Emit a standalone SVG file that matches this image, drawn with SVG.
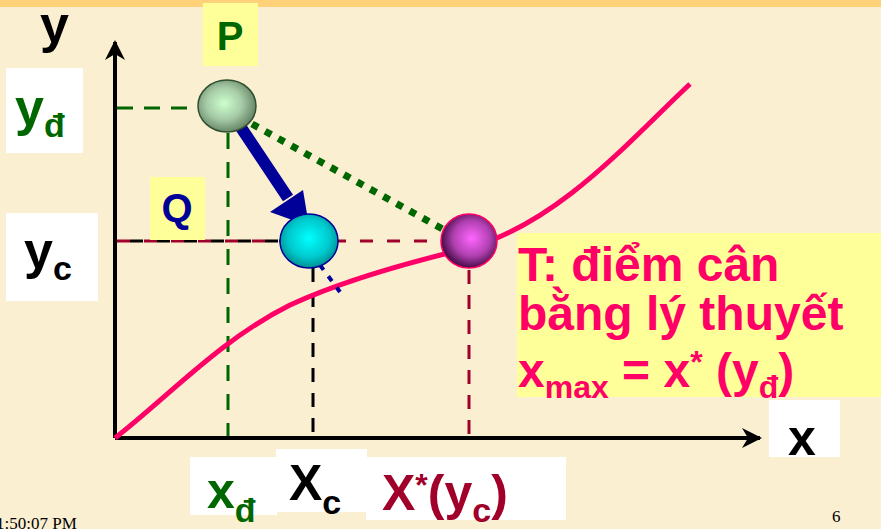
<svg xmlns="http://www.w3.org/2000/svg" width="881" height="529" viewBox="0 0 881 529">
<defs>
<style>
.lbl{font-family:"Liberation Sans","DejaVu Sans",sans-serif;font-weight:bold}
.box{fill:#ffffff}
.ybox{fill:#ffff99}
.serif{font-family:"Liberation Serif",serif;font-size:17px;fill:#000}
</style>
<radialGradient id="gP" cx="0.45" cy="0.45" r="0.6"><stop offset="0" stop-color="#ccffcc"/><stop offset="0.5" stop-color="#a8cca8"/><stop offset="1" stop-color="#5c7a5c"/></radialGradient>
<radialGradient id="gQ" cx="0.5" cy="0.45" r="0.6"><stop offset="0" stop-color="#00ffff"/><stop offset="0.6" stop-color="#00c8cc"/><stop offset="1" stop-color="#008080"/></radialGradient>
<radialGradient id="gT" cx="0.55" cy="0.45" r="0.6"><stop offset="0" stop-color="#ff66ff"/><stop offset="0.55" stop-color="#b040b0"/><stop offset="1" stop-color="#300030"/></radialGradient>
<marker id="ah" viewBox="0 0 10 10" refX="9" refY="5" markerWidth="5" markerHeight="5" orient="auto" markerUnits="strokeWidth"><path d="M0,0 L10,5 L0,10 L3,5 Z" fill="#000"/></marker>
</defs>
<rect width="881" height="529" fill="#fbefd2"/>
<rect width="881" height="7" fill="#ffd27a"/>

<g id="connectors">
<!-- axes -->
<line x1="115" y1="438" x2="115" y2="42" stroke="#000" stroke-width="4" marker-end="url(#ah)"/>
<line x1="115" y1="438" x2="760" y2="438" stroke="#000" stroke-width="4" marker-end="url(#ah)"/>
<!-- green dashed guides -->
<line x1="117" y1="108" x2="198" y2="108" stroke="#006600" stroke-width="3" stroke-dasharray="16,11"/>
<line x1="228" y1="133" x2="228" y2="436" stroke="#006600" stroke-width="3" stroke-dasharray="16,13"/>
<!-- y_c horizontal -->
<line x1="117" y1="241" x2="440" y2="241" stroke="#a0002a" stroke-width="3" stroke-dasharray="13,14"/>
<line x1="130" y1="241" x2="282" y2="241" stroke="#000" stroke-width="3" stroke-dasharray="13,14"/>
<!-- verticals -->
<line x1="313" y1="268" x2="313" y2="436" stroke="#000" stroke-width="3" stroke-dasharray="14,11"/>
<line x1="469" y1="270" x2="469" y2="436" stroke="#a0002a" stroke-width="3" stroke-dasharray="14,11"/>
<!-- curve -->
<path d="M115,438 C170,395 220,340 290,305 C340,282 410,262 469,248 C560,222 630,140 690,84" fill="none" stroke="#ff0066" stroke-width="5"/>
<!-- blue dotted -->
<line x1="320" y1="265" x2="340" y2="292" stroke="#000099" stroke-width="4" stroke-dasharray="6,8"/>
<!-- green dotted arrow P->T -->
<line x1="252" y1="124" x2="448" y2="232" stroke="#006600" stroke-width="7" stroke-dasharray="7,8"/>
<polygon points="445,247 455,225 472,248" fill="#006600"/>
<!-- blue arrow P->Q -->
<line x1="240" y1="126" x2="288" y2="198" stroke="#000099" stroke-width="12"/>
<polygon points="270,212 303,190 309,226" fill="#000099"/>
</g>

<g id="node-P">
<rect class="ybox" x="203" y="3" width="55" height="63"/>
<text class="lbl" x="230" y="50" font-size="40" fill="#006600" text-anchor="middle">P</text>
<ellipse cx="227" cy="106" rx="29" ry="26" fill="url(#gP)" stroke="#2f4f2f" stroke-width="1.5"/>
</g>

<g id="node-Q">
<rect class="ybox" x="150" y="177" width="55" height="63"/>
<text class="lbl" x="177" y="222" font-size="40" fill="#000099" text-anchor="middle">Q</text>
<ellipse cx="309" cy="241" rx="29" ry="27" fill="url(#gQ)" stroke="#000099" stroke-width="1.5"/>
</g>

<g id="node-T">
<ellipse cx="469" cy="241" rx="28" ry="27" fill="url(#gT)" stroke="#ff0066" stroke-width="1.5"/>
<rect class="ybox" x="517" y="233" width="364" height="164"/>
<text class="lbl" font-size="48" fill="#ff0066">
<tspan x="518" y="281">T: điểm cân</tspan>
<tspan x="518" y="330">bằng lý thuyết</tspan>
<tspan x="518" y="387">x<tspan font-size="32" dy="11">max</tspan><tspan dy="-11"> = x</tspan><tspan font-size="32" dy="-14">*</tspan><tspan dy="14"> (y</tspan><tspan font-size="32" dy="11">đ</tspan><tspan dy="-11">)</tspan></tspan>
</text>
</g>

<g id="label-y">
<text class="lbl" x="40" y="42" font-size="52" fill="#000">y</text>
</g>
<g id="label-yd">
<rect class="box" x="6" y="68" width="77" height="85"/>
<text class="lbl" x="15" y="125" font-size="52" fill="#006600">y<tspan font-size="34" dy="12">đ</tspan></text>
</g>
<g id="label-yc">
<rect class="box" x="6" y="213" width="92" height="88"/>
<text class="lbl" x="24" y="268" font-size="52" fill="#000">y<tspan font-size="34" dy="12">c</tspan></text>
</g>
<g id="label-x">
<rect class="box" x="769" y="400" width="71" height="57"/>
<text class="lbl" x="788" y="455" font-size="50" fill="#000">x</text>
</g>
<g id="label-xd">
<rect class="box" x="190" y="457" width="87" height="58"/>
<text class="lbl" x="207" y="508" font-size="50" fill="#006600">x<tspan font-size="34" dy="14">đ</tspan></text>
</g>
<g id="label-Xc">
<rect class="box" x="276" y="449" width="91" height="63"/>
<text class="lbl" x="289" y="500" font-size="50" fill="#000">X<tspan font-size="34" dy="14">c</tspan></text>
</g>
<g id="label-Xstar">
<rect class="box" x="366" y="457" width="200" height="63"/>
<text class="lbl" x="382" y="510" font-size="50" fill="#a0002a">X<tspan font-size="32" dy="-14">*</tspan><tspan dy="14">(y</tspan><tspan font-size="34" dy="12">c</tspan><tspan dy="-12">)</tspan></text>
</g>
<text class="serif" x="-4" y="529">1:50:07 PM</text>
<text class="serif" x="832" y="522">6</text>
</svg>
